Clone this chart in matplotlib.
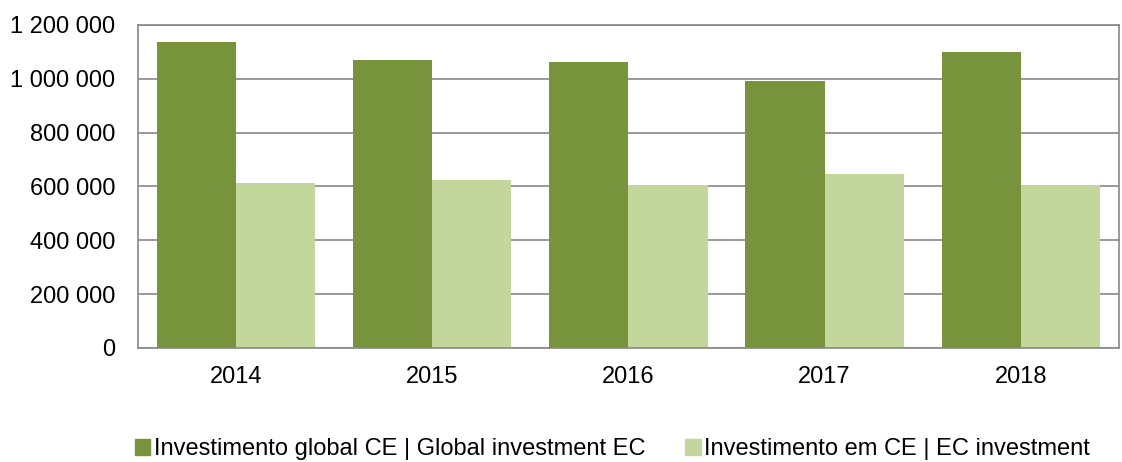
import matplotlib
matplotlib.use("Agg")
import matplotlib.pyplot as plt
from matplotlib.patches import Patch
from matplotlib.ticker import FuncFormatter
import numpy as np

plt.rcParams['font.family'] = ['Liberation Sans', 'DejaVu Sans']

years = ['2014', '2015', '2016', '2017', '2018']
global_inv = [1137000, 1069000, 1062000, 991500, 1100000]
ec_inv = [613700, 624900, 606300, 645600, 606300]
labels = ['Investimento global CE | Global investment EC',
          'Investimento em CE | EC investment']
dark = '#77933C'
light = '#C3D69B'
grey = '#888888'

fig = plt.figure(figsize=(11.22, 4.62), dpi=100)
ax = fig.add_axes([0.1227, 0.2468, 0.8746, 0.6991])

x = np.arange(len(years))
w = 0.404
ax.bar(x - w / 2, global_inv, w, color=dark, zorder=2)
ax.bar(x + w / 2, ec_inv, w, color=light, zorder=2)

ax.set_xlim(-0.5, len(years) - 0.5)
ax.set_ylim(0, 1200000)
ax.set_yticks(range(0, 1200001, 200000))
ax.yaxis.set_major_formatter(FuncFormatter(lambda v, p: f"{int(v):,}".replace(',', ' ')))
ax.set_xticks(x)
ax.set_xticklabels(years)
ax.tick_params(axis='both', length=0, labelsize=17)
ax.tick_params(axis='y', pad=16)
ax.tick_params(axis='x', pad=13)
ax.grid(axis='y', color=grey, linewidth=1.2, zorder=0)
ax.set_axisbelow(True)
for s in ax.spines.values():
    s.set_color(grey)
    s.set_linewidth(1.2)

handles = [Patch(color=dark), Patch(color=light)]
fig.legend(handles, labels, loc='center', bbox_to_anchor=(0.546, 0.028), ncol=2,
           frameon=False, fontsize=17, handlelength=0.64, handleheight=0.64,
           handletextpad=0.15, columnspacing=1.7, borderpad=0)

fig.savefig('out.png', dpi=100)
